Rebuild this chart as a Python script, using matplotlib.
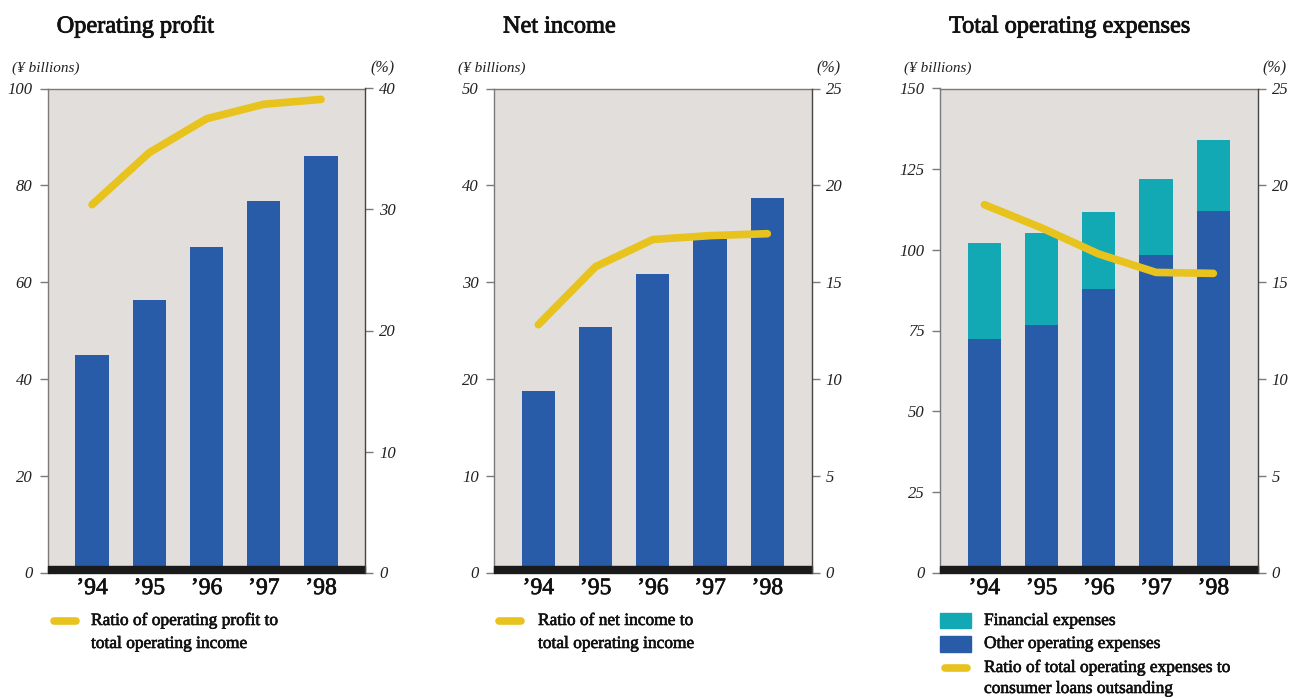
import matplotlib
matplotlib.use("Agg")
import matplotlib.pyplot as plt
from matplotlib.patches import Rectangle
from matplotlib.lines import Line2D
import matplotlib.patheffects as pe
import numpy as np

plt.rcParams['font.family'] = ['Liberation Serif', 'DejaVu Serif']

years = ["\u201994", "\u201995", "\u201996", "\u201997", "\u201998"]

op_profit = [44.9, 56.3, 67.3, 76.8, 86.1]
op_profit_ratio = [30.4, 34.7, 37.5, 38.7, 39.1]

net_income = [18.7, 25.4, 30.8, 34.5, 38.7]
net_income_ratio = [12.8, 15.8, 17.2, 17.4, 17.5]

other_exp = [72.4, 76.7, 87.9, 98.4, 112.1]
financial_exp = [29.7, 28.5, 23.8, 23.5, 21.9]
exp_ratio = [19.0, 17.8, 16.45, 15.5, 15.45]

titles = ["Operating profit", "Net income", "Total operating expenses"]
left_ticks = [list(range(0, 101, 20)), list(range(0, 51, 10)), list(range(0, 151, 25))]
right_ticks = [list(range(0, 41, 10)), list(range(0, 26, 5)), list(range(0, 26, 5))]

BG = "#E2DEDB"
BLUE = "#285BA8"
TEAL = "#12A8B4"
YELLOW = "#E8C31D"
GRAY = "#7a7a7a"

W, H = 1289, 698
fig = plt.figure(figsize=(W / 100, H / 100), dpi=100)

thick = [pe.withStroke(linewidth=0.6, foreground="#111")]
thick_tick = [pe.withStroke(linewidth=0.5, foreground="#111")]

lefts_px = [47.7, 494.0, 940.0]
ax_w_px = 317.7
top_px, bot_px = 88.5, 572.5

x = np.arange(len(years))
for i in range(3):
    l = lefts_px[i]
    ax = fig.add_axes([l / W, 1 - bot_px / H, ax_w_px / W, (bot_px - top_px) / H])
    ax.set_facecolor(BG)
    ax.set_xlim(-0.775, 4.775)
    ax.set_ylim(0, left_ticks[i][-1])
    if i == 0:
        ax.bar(x, op_profit, width=0.58, color=BLUE, zorder=2)
        ratio = op_profit_ratio
    elif i == 1:
        ax.bar(x, net_income, width=0.58, color=BLUE, zorder=2)
        ratio = net_income_ratio
    else:
        ax.bar(x, other_exp, width=0.58, color=BLUE, zorder=2)
        ax.bar(x, financial_exp, bottom=other_exp, width=0.58, color=TEAL, zorder=2)
        ratio = exp_ratio
    # black base band
    ax.add_patch(Rectangle((0, 0), 1, 6.5 / (bot_px - top_px), transform=ax.transAxes,
                           color="#1a1a1a", zorder=3, clip_on=False))
    ax.set_yticks(left_ticks[i])
    ax.set_yticklabels([str(v) for v in left_ticks[i]], fontstyle='italic', fontsize=12, color="#222")
    ax.tick_params(axis='y', length=5.5, width=1, color=GRAY, pad=5.5)
    ax.set_xticks(x)
    ax.set_xticklabels(years, fontsize=17, color="#111")
    for t in ax.get_xticklabels():
        t.set_path_effects(thick_tick)
    ax.tick_params(axis='x', length=0, pad=4)
    for s in ['bottom', 'right']:
        ax.spines[s].set_visible(False)
    ax.spines['left'].set_color(GRAY)
    ax.spines['top'].set_color(GRAY)
    ax.spines['left'].set_linewidth(1)
    ax.spines['top'].set_linewidth(1)

    ax2 = ax.twinx()
    ax2.set_ylim(0, right_ticks[i][-1])
    ax2.plot(x, ratio, color=YELLOW, lw=5.5, solid_capstyle='round', solid_joinstyle='round', zorder=4)
    ax2.set_yticks(right_ticks[i])
    ax2.set_yticklabels([str(v) for v in right_ticks[i]], fontstyle='italic', fontsize=12, color="#222")
    ax2.tick_params(axis='y', length=5.5, width=1, color=GRAY, pad=4.5)
    for s in ['bottom', 'left', 'top']:
        ax2.spines[s].set_visible(False)
    ax2.spines['right'].set_color("#444")
    ax2.spines['right'].set_linewidth(1)

    # titles and unit labels
    fig.text((l + 9) / W, 1 - 27 / H, titles[i], fontsize=17.5, color="#111", va='center', ha='left',
             path_effects=thick)
    fig.text((l - 36) / W, 1 - 68 / H, "(\u00a5 billions)", fontsize=11, fontstyle='italic',
             color="#222", va='center', ha='left')
    fig.text((l + ax_w_px + 29) / W, 1 - 68 / H, "(%)", fontsize=11.5, fontstyle='italic',
             color="#222", va='center', ha='right')

# legends
def leg_line(x0, y):
    fig.add_artist(Line2D([(x0 + 4) / W, (x0 + 26) / W], [1 - y / H, 1 - y / H], color=YELLOW,
                          lw=5.5, solid_capstyle='round', transform=fig.transFigure))

def leg_text(x0, y, s):
    fig.text(x0 / W, 1 - y / H, s, fontsize=12.5, color="#111", va='center', ha='left',
             path_effects=[pe.withStroke(linewidth=0.45, foreground="#111")])

leg_line(50, 621)
leg_text(91, 621, "Ratio of operating profit to")
leg_text(91, 644, "total operating income")

leg_line(495, 621)
leg_text(538, 621, "Ratio of net income to")
leg_text(538, 644, "total operating income")

fig.add_artist(Rectangle((940 / W, 1 - 628 / H), 31 / W, 15 / H, color=TEAL, transform=fig.transFigure))
fig.add_artist(Rectangle((940 / W, 1 - 652 / H), 31 / W, 16 / H, color=BLUE, transform=fig.transFigure))
leg_line(941, 668)
leg_text(984, 621, "Financial expenses")
leg_text(984, 644, "Other operating expenses")
leg_text(984, 668, "Ratio of total operating expenses to")
leg_text(984, 689, "consumer loans outsanding")

fig.savefig("out.png", dpi=100)
